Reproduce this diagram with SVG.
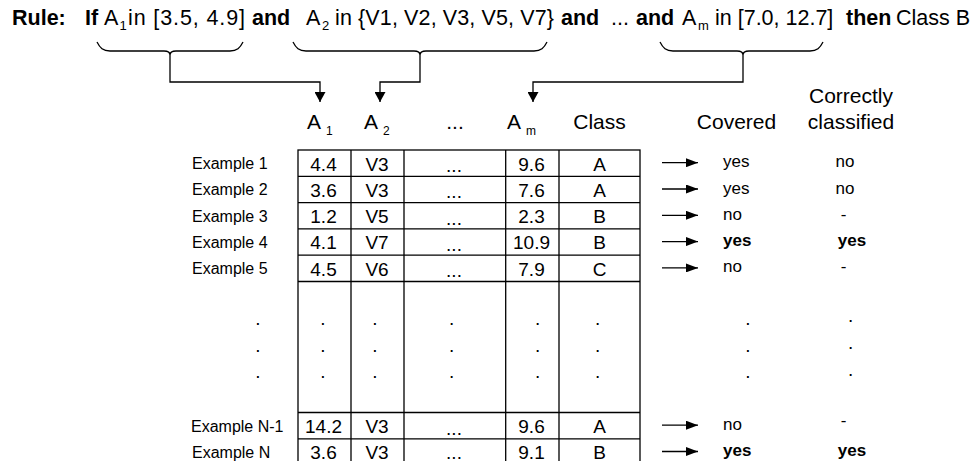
<svg xmlns="http://www.w3.org/2000/svg" width="977" height="461" viewBox="0 0 977 461">
<defs>
<marker id="ahd" markerWidth="11" markerHeight="11" refX="10" refY="5.5" orient="auto" markerUnits="userSpaceOnUse"><path d="M0,0 L10,5.5 L0,11 Z" fill="#000"/></marker>
<marker id="ahr" markerWidth="12" markerHeight="9" refX="12" refY="4.5" orient="auto" markerUnits="userSpaceOnUse"><path d="M0,0 L12,4.5 L0,9 Z" fill="#000"/></marker>
</defs>
<style>
text{font-family:"Liberation Sans",Arial,sans-serif;fill:#000}
.rl{font-size:21.5px}
.b{font-weight:bold}
.rs{font-size:13px}
.hd{font-size:21px}
.hc{font-size:21px;text-anchor:middle}
.hs{font-size:12px}
.v{font-size:19px;text-anchor:middle}
.ex{font-size:16px}
.r{font-size:17px}
.rc{font-size:17px;text-anchor:middle}
.dot{font-size:19px;text-anchor:middle}
.ln{stroke:#000;stroke-width:1.3;fill:none}
.cn{stroke:#000;stroke-width:1.3;fill:none}
</style>
<rect width="977" height="461" fill="#fff"/>

<g id="rule">
<text class="rl b" x="12" y="25">Rule:</text>
<text class="rl b" x="85" y="25">If</text>
<text class="rl" x="104" y="25">A</text><text class="rs" x="119.5" y="30">1</text>
<text class="rl" x="128" y="25" textLength="117" lengthAdjust="spacing">in [3.5, 4.9]</text>
<text class="rl b" x="252" y="25">and</text>
<text class="rl" x="306" y="25">A</text><text class="rs" x="322" y="30">2</text>
<text class="rl" x="335" y="25" textLength="219" lengthAdjust="spacing">in {V1, V2, V3, V5, V7}</text>
<text class="rl b" x="561" y="25">and</text>
<text class="rl" x="611" y="25">...</text>
<text class="rl b" x="636" y="25">and</text>
<text class="rl" x="682" y="25">A</text><text class="rs" x="698" y="30">m</text>
<text class="rl" x="715" y="25">in [7.0, 12.7]</text>
<text class="rl b" x="846" y="25">then</text>
<text class="rl" x="896" y="25">Class B</text>
</g>

<g id="braces">
<path class="ln" d="M97,42 C100,48 103,51 110,51 L164,51 Q170,51 170,55 Q170,51 176,51 L230,51 C237,51 240,48 243,42"/>
<path class="ln" d="M293,42 C296,48 299,51 306,51 L414,51 Q420,51 420,55 Q420,51 426,51 L534,51 C541,51 544,48 547,42"/>
<path class="ln" d="M660,42 C663,48 666,51 673,51 L737,51 Q743,51 743,55 Q743,51 749,51 L810,51 C817,51 820,48 823,42"/>
</g>

<g id="connectors">
<path class="cn" d="M170,55 V82 H320 V102" marker-end="url(#ahd)"/>
<path class="cn" d="M420,55 V82 H380 V102" marker-end="url(#ahd)"/>
<path class="cn" d="M743,55 V82 H533 V102" marker-end="url(#ahd)"/>
<path class="cn" d="M662,162.7 H698" marker-end="url(#ahr)"/>
<path class="cn" d="M662,189 H698" marker-end="url(#ahr)"/>
<path class="cn" d="M662,215.3 H698" marker-end="url(#ahr)"/>
<path class="cn" d="M662,241.6 H698" marker-end="url(#ahr)"/>
<path class="cn" d="M662,267.9 H698" marker-end="url(#ahr)"/>
<path class="cn" d="M662,425.2 H698" marker-end="url(#ahr)"/>
<path class="cn" d="M662,451.5 H698" marker-end="url(#ahr)"/>
</g>

<g id="headers">
<text class="hd" x="307" y="129">A</text><text class="hs" x="326" y="135">1</text>
<text class="hd" x="364" y="129">A</text><text class="hs" x="383" y="135">2</text>
<text class="hc" x="455" y="129">...</text>
<text class="hd" x="507" y="129">A</text><text class="hs" x="526" y="135">m</text>
<text class="hc" x="599.5" y="129">Class</text>
<text class="hc" x="736.5" y="129">Covered</text>
<text class="hc" x="851" y="103">Correctly</text>
<text class="hc" x="851" y="129">classified</text>
</g>

<g id="table">
<rect class="ln" x="298" y="150" width="342" height="315"/>
<path class="ln" d="M351,150 V465 M404,150 V465 M505.7,150 V465 M559,150 V465"/>
<path class="ln" d="M298,176.3 H640 M298,202.6 H640 M298,228.9 H640 M298,255.2 H640 M298,281.5 H640 M298,412.5 H640 M298,438.8 H640"/>
</g>

<g id="row1">
<text class="ex" x="192" y="169">Example 1</text>
<text class="v" x="323.5" y="170.5">4.4</text><text class="v" x="377" y="170.5">V3</text><text class="v" x="454" y="172">...</text><text class="v" x="531.5" y="170.5">9.6</text><text class="v" x="599.5" y="170.5">A</text>
<text class="r" x="723" y="167">yes</text><text class="rc" x="845" y="167">no</text>
</g>
<g id="row2">
<text class="ex" x="192" y="195.3">Example 2</text>
<text class="v" x="323.5" y="196.8">3.6</text><text class="v" x="377" y="196.8">V3</text><text class="v" x="454" y="198.3">...</text><text class="v" x="531.5" y="196.8">7.6</text><text class="v" x="599.5" y="196.8">A</text>
<text class="r" x="723" y="193.5">yes</text><text class="rc" x="845" y="193.5">no</text>
</g>
<g id="row3">
<text class="ex" x="192" y="221.6">Example 3</text>
<text class="v" x="323.5" y="223.1">1.2</text><text class="v" x="377" y="223.1">V5</text><text class="v" x="454" y="224.6">...</text><text class="v" x="531.5" y="223.1">2.3</text><text class="v" x="599.5" y="223.1">B</text>
<text class="r" x="723" y="219.7">no</text><text class="rc" x="843.5" y="219.7">-</text>
</g>
<g id="row4">
<text class="ex" x="192" y="247.9">Example 4</text>
<text class="v" x="323.5" y="249.4">4.1</text><text class="v" x="377" y="249.4">V7</text><text class="v" x="454" y="250.9">...</text><text class="v" x="531.5" y="249.4">10.9</text><text class="v" x="599.5" y="249.4">B</text>
<text class="r b" x="723" y="246">yes</text><text class="rc b" x="852" y="246">yes</text>
</g>
<g id="row5">
<text class="ex" x="192" y="274.2">Example 5</text>
<text class="v" x="323.5" y="275.7">4.5</text><text class="v" x="377" y="275.7">V6</text><text class="v" x="454" y="277.2">...</text><text class="v" x="531.5" y="275.7">7.9</text><text class="v" x="599.5" y="275.7">C</text>
<text class="r" x="723" y="272.3">no</text><text class="rc" x="843.5" y="272.3">-</text>
</g>

<g id="ellipsis">
<text class="dot" x="258" y="324.5">.</text><text class="dot" x="258" y="351.5">.</text><text class="dot" x="258" y="378">.</text>
<text class="dot" x="323" y="324.5">.</text><text class="dot" x="323" y="351.5">.</text><text class="dot" x="323" y="378">.</text>
<text class="dot" x="375" y="324.5">.</text><text class="dot" x="375" y="351.5">.</text><text class="dot" x="375" y="378">.</text>
<text class="dot" x="451.7" y="324.5">.</text><text class="dot" x="451.7" y="351.5">.</text><text class="dot" x="451.7" y="378">.</text>
<text class="dot" x="537.7" y="324.5">.</text><text class="dot" x="537.7" y="351.5">.</text><text class="dot" x="537.7" y="378">.</text>
<text class="dot" x="597.7" y="324.5">.</text><text class="dot" x="597.7" y="351.5">.</text><text class="dot" x="597.7" y="378">.</text>
<text class="dot" x="748" y="324.5">.</text><text class="dot" x="748" y="351.5">.</text><text class="dot" x="748" y="378">.</text>
<text class="dot" x="850.7" y="321.5">.</text><text class="dot" x="850.7" y="348.5">.</text><text class="dot" x="850.7" y="375.5">.</text>
</g>

<g id="rowN1">
<text class="ex" x="191" y="431.5">Example N-1</text>
<text class="v" x="323.5" y="433">14.2</text><text class="v" x="377" y="433">V3</text><text class="v" x="454" y="434.5">...</text><text class="v" x="531.5" y="433">9.6</text><text class="v" x="599.5" y="433">A</text>
<text class="r" x="723" y="429.6">no</text><text class="rc" x="843.5" y="425.6">-</text>
</g>
<g id="rowN">
<text class="ex" x="192" y="457.5">Example N</text>
<text class="v" x="323.5" y="458.5">3.6</text><text class="v" x="377" y="458.5">V3</text><text class="v" x="454" y="458.5">...</text><text class="v" x="531.5" y="458.5">9.1</text><text class="v" x="599.5" y="458.5">B</text>
<text class="r b" x="723" y="455.5">yes</text><text class="rc b" x="852" y="455.5">yes</text>
</g>
</svg>
